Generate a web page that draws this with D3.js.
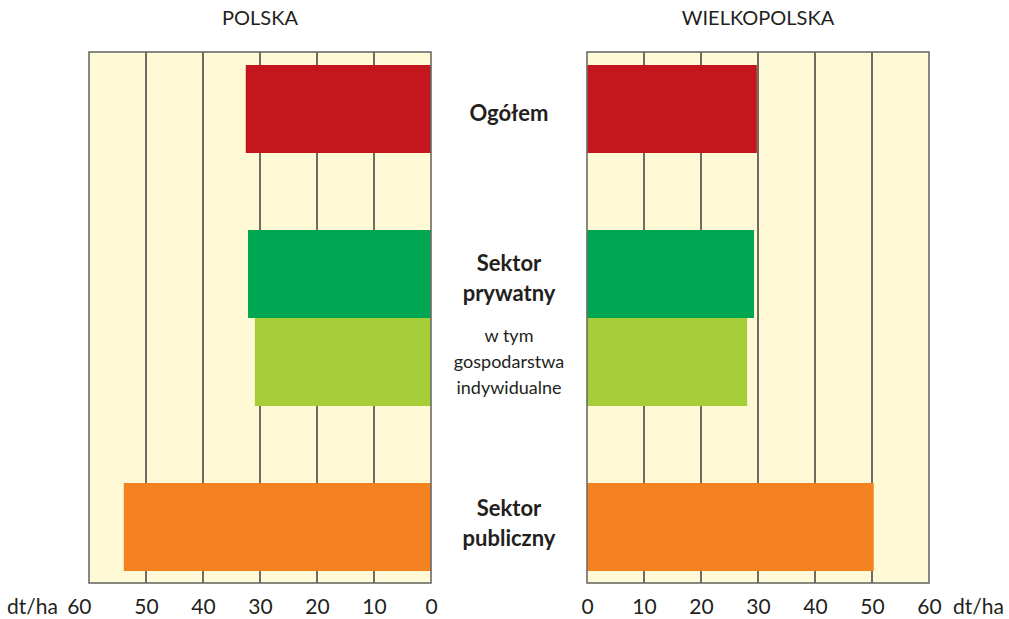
<!DOCTYPE html>
<html>
<head>
<meta charset="utf-8">
<script src="https://d3js.org/d3.v7.min.js"></script>
<style>
  body { margin: 0; background: #fff; }
  text { font-family: Lato, "Open Sans", sans-serif; fill: #231f20; }
</style>
</head>
<body>
<div id="chart"></div>
<script>
// dane: plony (dt/ha)
var categories = ['Ogółem', 'Sektor prywatny', 'w tym gospodarstwa indywidualne', 'Sektor publiczny'];
var groups = [[0], [1, 2], [3]];   // indeksy kategorii w grupach
var polska = [32.5, 32.1, 30.9, 53.9];
var wielkopolska = [29.8, 29.3, 28.1, 50.3];
var ticks = [0, 10, 20, 30, 40, 50, 60];
var colors = ['#c4161c', '#00a651', '#a6ce39', '#f58220'];
var labels = [
  { lines: ['Ogółem'], bold: true },
  { lines: ['Sektor', 'prywatny'], bold: true },
  { lines: ['w tym', 'gospodarstwa', 'indywidualne'], bold: false },
  { lines: ['Sektor', 'publiczny'], bold: true }
];

var width = 1009, height = 619;
var plotTop = 52, plotBottom = 583;
var barH = 88, gapH = 77, pad0 = 13;

var svg = d3.select('#chart').append('svg')
  .attr('width', width)
  .attr('height', height);

// pozycje pionowe słupków
var yPos = [];
var cur = plotTop + pad0;
groups.forEach(function (g) {
  g.forEach(function (i) {
    yPos[i] = cur;
    cur += barH;
  });
  cur += gapH;
});

var xLeft = d3.scaleLinear().domain([0, 60]).range([431, 89]);
var xRight = d3.scaleLinear().domain([0, 60]).range([587, 929]);

function panel(x, values, title) {
  var g = svg.append('g');
  var x0 = Math.min(x.range()[0], x.range()[1]);
  var x1 = Math.max(x.range()[0], x.range()[1]);

  g.append('rect')
    .attr('x', x0).attr('y', plotTop)
    .attr('width', x1 - x0).attr('height', plotBottom - plotTop)
    .attr('fill', '#fffad5');

  g.selectAll('.grid')
    .data(ticks.slice(1, -1))
    .enter().append('line')
    .attr('class', 'grid')
    .attr('x1', d => x(d)).attr('x2', d => x(d))
    .attr('y1', plotTop).attr('y2', plotBottom)
    .attr('stroke', '#4a4a44')
    .attr('stroke-width', 1.6);

  g.selectAll('.bar')
    .data(values)
    .enter().append('rect')
    .attr('class', 'bar')
    .attr('x', d => Math.min(x(0), x(d)))
    .attr('y', (d, i) => yPos[i])
    .attr('width', d => Math.abs(x(d) - x(0)))
    .attr('height', barH)
    .attr('fill', (d, i) => colors[i]);

  g.append('rect')
    .attr('x', x0).attr('y', plotTop)
    .attr('width', x1 - x0).attr('height', plotBottom - plotTop)
    .attr('fill', 'none')
    .attr('stroke', '#6b6b66')
    .attr('stroke-width', 1.6);

  var axis = d3.axisBottom(x).tickValues(ticks).tickSize(0).tickPadding(0);
  var ax = g.append('g')
    .attr('transform', 'translate(0,' + (plotBottom + 16) + ')')
    .call(axis);
  ax.select('.domain').remove();
  ax.selectAll('text')
    .attr('dy', '0.71em')
    .style('font-size', '21px')
    .style('font-family', 'Lato, "Open Sans", sans-serif')
    .attr('fill', '#231f20');

  g.append('text')
    .attr('x', (x0 + x1) / 2)
    .attr('y', 25)
    .attr('text-anchor', 'middle')
    .style('font-size', '20px')
    .text(title);
  return ax;
}

var axL = panel(xLeft, polska, 'POLSKA');
panel(xRight, wielkopolska, 'WIELKOPOLSKA');

// przesunięcie "60" po lewej
axL.selectAll('.tick').filter(d => d === 60).select('text')
  .attr('text-anchor', 'end').attr('x', 2);

svg.append('text')
  .attr('x', 7).attr('y', 614)
  .style('font-size', '21px')
  .text('dt/ha');

svg.append('text')
  .attr('x', 953).attr('y', 614)
  .style('font-size', '21px')
  .text('dt/ha');

// etykiety kategorii w środku
var cx = 509;
var labelCenters = [yPos[0] + barH / 2 + 4, yPos[1] + barH / 2 + 4, yPos[2] + barH / 2, yPos[3] + barH / 2 - 4];
labels.forEach(function (l, i) {
  var lh = l.bold ? 30 : 26;
  var n = l.lines.length;
  var t = svg.append('text')
    .attr('text-anchor', 'middle')
    .style('font-size', l.bold ? '22px' : '18px')
    .style('font-weight', l.bold ? 'bold' : 'normal');
  l.lines.forEach(function (s, j) {
    t.append('tspan')
      .attr('x', cx)
      .attr('y', labelCenters[i] + (j - (n - 1) / 2) * lh)
      .attr('dy', '0.35em')
      .text(s);
  });
});
</script>
</body>
</html>
